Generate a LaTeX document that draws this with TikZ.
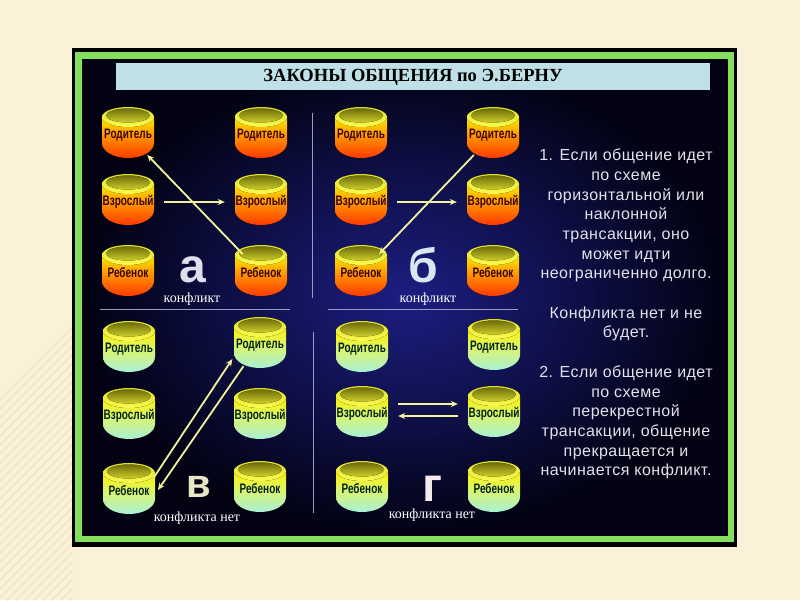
\documentclass[tikz,border=0pt]{standalone}
\usepackage{fontspec}
\setmainfont{Liberation Serif}
\newfontfamily\sansf{Liberation Sans}
\newfontfamily\sansfsp[LetterSpace=3]{Liberation Sans}
\usetikzlibrary{arrows.meta,shapes.geometric}
\definecolor{pagebg}{HTML}{FAF1D9}
\definecolor{stripe}{HTML}{F3E6C4}
\definecolor{greenframe}{HTML}{84E05C}
\definecolor{titlebar}{HTML}{BEE0E6}
\definecolor{sepline}{HTML}{9A9AC4}
\definecolor{arrowcol}{HTML}{F2F29C}
\definecolor{rtextcol}{HTML}{E2E2EA}
\definecolor{labdarkA}{HTML}{3A0202}
\definecolor{labdarkB}{HTML}{02241A}
\tikzset{
  x=1pt,y=-1pt,
  Abody/.style={top color=yellow!85!orange, bottom color=red!55!orange, middle color=orange!90!yellow},
  Bbody/.style={top color=yellow!90!orange, bottom color={rgb,255:red,168;green,240;blue,214}, middle color={rgb,255:red,214;green,244;blue,120}},
  drumrim/.style={top color={rgb,255:red,224;green,224;blue,40}, bottom color={rgb,255:red,250;green,250;blue,80}},
  drumhole/.style={top color={rgb,255:red,110;green,110;blue,10}, bottom color={rgb,255:red,206;green,206;blue,44}},
  drumA/.style={ellipse, minimum width=54pt, minimum height=48pt, inner sep=0pt, text=labdarkA,
     font=\sansf\bfseries\fontsize{12.5}{13}\selectfont},
  drumB/.style={drumA, text=labdarkB},
  arr/.style={draw=arrowcol, line width=1.8pt, -{Stealth[length=7pt,width=6pt]}},
  sep/.style={draw=sepline, line width=0.9pt},
  bigletter/.style={font=\sansf\bfseries\fontsize{48}{48}\selectfont, anchor=base, inner sep=0pt, text depth=0pt},
  conf/.style={text=white, font=\fontsize{14}{14}\selectfont, inner sep=0pt},
  rtext/.style={text=rtextcol, align=center, inner sep=0pt, font=\sansfsp\fontsize{16}{19.7}\selectfont},
}
\newcommand\drumshape[3]{%
  \fill[#3body] (#1-26,#2-18) -- (#1-26,#2+8)
     arc[start angle=180, end angle=360, x radius=26pt, y radius=15pt] -- (#1+26,#2-18) -- cycle;
  \fill[drumrim] (#1,#2-18) ellipse [x radius=26pt, y radius=10pt];
  \fill[drumhole] (#1,#2-19.5) ellipse [x radius=22pt, y radius=7pt];
}
\newcommand\drum[5]{% name, x, y, text, scheme A/B
  \drumshape{#2}{#3}{#5}
  \node[drum#5] (#1) at (#2,#3) {\scalebox{0.8}[1.1]{#4}};
}
\begin{document}
\begin{tikzpicture}
% page
\fill[pagebg] (0,0) rectangle (800,600);
\useasboundingbox (0,0) rectangle (800,600);
\begin{scope}
  \clip (0,90) rectangle (72,600);
  \foreach \i in {0,...,40} {\draw[stripe, line width=2pt] (\i*9-200,600) -- ++(300,-300);}
\end{scope}
% slide frame
\fill[black] (72,48) rectangle (737,547);
\fill[greenframe] (75,52) rectangle (734,542);
\fill[black] (82,59) rectangle (728,536);
\shade[inner color={rgb,255:red,28;green,30;blue,130}, outer color={rgb,255:red,2;green,2;blue,18}] (83,60) rectangle (727,535);
% title
\fill[titlebar] (116,63) rectangle (710,90);
\node[font=\bfseries\fontsize{18.5}{18.5}\selectfont, text=black] (title) at (413,77) {ЗАКОНЫ ОБЩЕНИЯ по Э.БЕРНУ};
% separators
\draw[sep] (312,113) -- (312,298);
\draw[sep] (313,332) -- (313,513);
\draw[sep] (100,309) -- (290,309);
\draw[sep] (328,309) -- (518,309);
% panel a
\drum{aPL}{128}{135}{Родитель}{A}
\drum{aVL}{128}{202}{Взрослый}{A}
\drum{aRL}{128}{273}{Ребенок}{A}
\drum{aPR}{261}{135}{Родитель}{A}
\drum{aVR}{261}{202}{Взрослый}{A}
\drum{aRR}{261}{273}{Ребенок}{A}
% panel b
\drum{bPL}{361}{135}{Родитель}{A}
\drum{bVL}{361}{202}{Взрослый}{A}
\drum{bRL}{361}{273}{Ребенок}{A}
\drum{bPR}{493}{135}{Родитель}{A}
\drum{bVR}{493}{202}{Взрослый}{A}
\drum{bRR}{493}{273}{Ребенок}{A}
% panel v
\drum{vPL}{129}{349}{Родитель}{B}
\drum{vVL}{129}{416}{Взрослый}{B}
\drum{vRL}{129}{491}{Ребенок}{B}
\drum{vPR}{260}{345}{Родитель}{B}
\drum{vVR}{260}{416}{Взрослый}{B}
\drum{vRR}{260}{489}{Ребенок}{B}
% panel g
\drum{gPL}{362}{349}{Родитель}{B}
\drum{gVL}{362}{414}{Взрослый}{B}
\drum{gRL}{362}{489}{Ребенок}{B}
\drum{gPR}{494}{347}{Родитель}{B}
\drum{gVR}{494}{414}{Взрослый}{B}
\drum{gRR}{494}{489}{Ребенок}{B}
% arrows
\draw[arr] (aVL) -- (aVR);
\draw[arr] (aRR) -- (aPL);
\draw[arr] (bVL) -- (bVR);
\draw[arr] (bPR) -- (bRL);
\draw[arr] (vRL.28) -- (vPR.207);
\draw[arr] (vPR.232) -- (vRL.2);
\draw[arr] ([yshift=10pt]gVL.east) -- ([yshift=10pt]gVR.west);
\draw[arr] ([yshift=-2pt]gVR.west) -- ([yshift=-2pt]gVL.east);
% big letters
\node[bigletter, text={rgb,255:red,222;green,222;blue,236}] (la) at (193,282) {а};
\node[bigletter, text={rgb,255:red,214;green,232;blue,242}] (lb) at (423,282) {б};
\node[bigletter, text={rgb,255:red,232;green,232;blue,200}, font=\sansf\bfseries\fontsize{40}{40}\selectfont] (lv) at (199,497) {в};
\node[bigletter, text={rgb,255:red,244;green,236;blue,236}] (lg) at (432,501) {г};
% conflict labels
\node[conf] (ca) at (192,299) {конфликт};
\node[conf] (cb) at (428,299) {конфликт};
\node[conf] (cv) at (197,518) {конфликта нет};
\node[conf] (cg) at (432,515) {конфликта нет};
% right text
\node[rtext] (txt) at (626,314) {1. Если общение идет\\по схеме\\горизонтальной или\\наклонной\\трансакции, оно\\может идти\\неограниченно долго.\\[19.7pt]Конфликта нет и не\\будет.\\[19.7pt]2. Если общение идет\\по схеме\\перекрестной\\трансакции, общение\\прекращается и\\начинается конфликт.};
\end{tikzpicture}
\end{document}
